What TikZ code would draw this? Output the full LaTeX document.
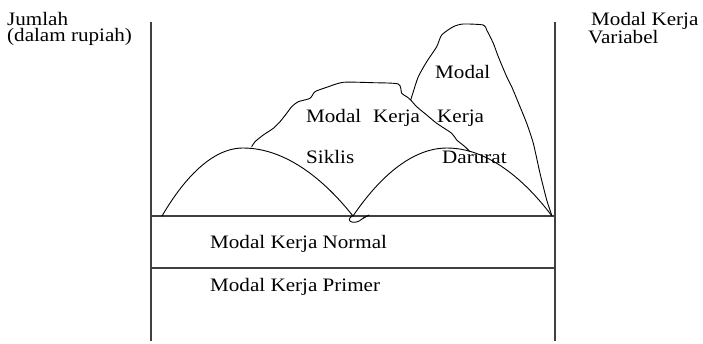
\documentclass[tikz,border=0pt]{standalone}
\usepackage{fontspec}
\setmainfont[FakeStretch=1.11]{Liberation Serif}
\begin{document}
\begin{tikzpicture}[x=1pt,y=-1pt,
  lbl/.style={inner sep=0pt,anchor=base west,align=left,font=\fontsize{19}{16.8}\selectfont},
  axis/.style={draw=black!75,line width=1.1pt},
  curve/.style={draw=black,line width=0.9pt,line join=round,line cap=round}]
\useasboundingbox (0,0) rectangle (703,343);

% axes and level lines
\coordinate (lt) at (151,22);
\coordinate (lb) at (151,341);
\coordinate (rt) at (555,22);
\coordinate (rb) at (555,341);
\coordinate (n1) at (151,216);
\coordinate (n2) at (555,216);
\coordinate (p1) at (151,268);
\coordinate (p2) at (555,268);
\draw[axis] (lt) -- (lb);
\draw[axis] (rt) -- (rb);
\draw[axis] (n1) -- (n2);
\draw[axis] (p1) -- (p2);

% seasonal humps
\draw[curve] (162,216) parabola bend (243,148) (353,216);
\draw[curve] (353,216) parabola bend (447,148) (552,216);
\draw[curve] (352,216) .. controls (344,222) and (356,225) .. (362,219) -- (369,215) -- (363,218);

% cyclical working capital
\draw[curve] plot[smooth,tension=0.4] coordinates {
  (251.7,146.7) (255,141.7) (263.3,135) (273.3,128.3) (280,121.7) (286.7,113.3)
  (291.7,106.7) (298.3,101.7) (310,98.3) (315,91.7) (326.7,87.3) (343.3,82.3)
  (373.3,82.7) (398.3,84) (401.7,93.3) (406.7,96.7) (410.7,100) (416.7,106.7)
  (426.7,115) (436.7,123.3) (451.7,133.3) (456.7,140) (465,146.7) (470,151.7)};

% emergency working capital
\draw[curve] plot[smooth,tension=0.4] coordinates {
  (410.7,100) (413.3,91.7) (418.3,76.7) (426.7,61.7) (436.7,46.7) (441.7,35)
  (453.3,26.7) (463.3,24) (483.3,25) (486.7,30) (493.3,43.3) (498.3,56.7)
  (506.7,76.7) (511.7,86.7) (520,106.7) (526.7,123.3) (533.3,143.3)
  (540,173.3) (546.7,200) (551.7,215)};

% labels (base anchor sits on the last line)
\node[lbl] (jml) at (7,41.8) {Jumlah\\(dalam rupiah)};
\node[lbl] (mkv) at (588,43.5) {\hspace*{3pt}Modal Kerja\\Variabel};
\node[lbl] (sk1) at (306,122) {Modal};
\node[lbl] (sk2) at (373,122) {Kerja};
\node[lbl] (sk3) at (306,163) {Siklis};
\node[lbl] (dr1) at (435,78) {Modal};
\node[lbl] (dr2) at (437,122) {Kerja};
\node[lbl] (dr3) at (442,163) {Darurat};
\node[lbl] (nrm) at (210,248) {Modal Kerja Normal};
\node[lbl] (prm) at (210,291) {Modal Kerja Primer};
\end{tikzpicture}
\end{document}
